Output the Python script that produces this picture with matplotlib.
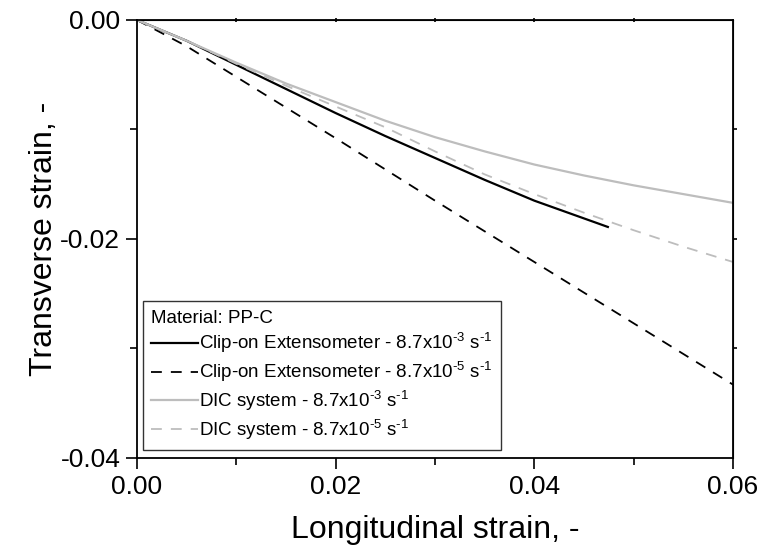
import matplotlib
matplotlib.use("Agg")
import matplotlib.pyplot as plt

plt.rcParams['font.family'] = ['Liberation Sans', 'DejaVu Sans']
plt.rcParams['mathtext.fontset'] = 'custom'
plt.rcParams['mathtext.rm'] = 'Liberation Sans'
plt.rcParams['mathtext.it'] = 'Liberation Sans'
plt.rcParams['axes.unicode_minus'] = False

# datos
clip_fast_x = [0, 0.005, 0.01, 0.015, 0.02, 0.025, 0.03, 0.035, 0.04, 0.0474]
clip_fast_y = [0, -0.0019, -0.0041, -0.0063, -0.0085, -0.0106, -0.0126, -0.0146, -0.0165, -0.0189]

clip_slow_x = [0, 0.005, 0.01, 0.015, 0.02, 0.03, 0.04, 0.05, 0.06]
clip_slow_y = [0, -0.0024, -0.0052, -0.0080, -0.0108, -0.0165, -0.0221, -0.0277, -0.0333]

dic_fast_x = [0, 0.005, 0.01, 0.015, 0.02, 0.025, 0.03, 0.035, 0.04, 0.045, 0.05, 0.055, 0.06]
dic_fast_y = [0, -0.0019, -0.0039, -0.0058, -0.0075, -0.0092, -0.0107, -0.0120, -0.0132, -0.0142, -0.0151, -0.0159, -0.0167]

dic_slow_x = [0, 0.005, 0.01, 0.015, 0.02, 0.025, 0.03, 0.035, 0.04, 0.045, 0.05, 0.055, 0.06]
dic_slow_y = [0, -0.0019, -0.0040, -0.0060, -0.0079, -0.0098, -0.0120, -0.0141, -0.0159, -0.0176, -0.0192, -0.0207, -0.0221]

labels = [r"Clip-on Extensometer - 8.7x10$^{\text{-3}}$ s$^{\text{-1}}$",
          r"Clip-on Extensometer - 8.7x10$^{\text{-5}}$ s$^{\text{-1}}$",
          r"DIC system - 8.7x10$^{\text{-3}}$ s$^{\text{-1}}$",
          r"DIC system - 8.7x10$^{\text{-5}}$ s$^{\text{-1}}$"]

fig = plt.figure(figsize=(7.6, 5.54), dpi=100)
ax = fig.add_axes([0.1803, 0.1733, 0.7842, 0.7906])

ax.plot(clip_fast_x, clip_fast_y, '-', color='black', lw=1.6, label=labels[0])
ax.plot(clip_slow_x, clip_slow_y, '--', color='black', lw=1.3, dashes=(6, 5), label=labels[1])
ax.plot(dic_fast_x, dic_fast_y, '-', color='#bdbdbd', lw=1.6, label=labels[2])
ax.plot(dic_slow_x, dic_slow_y, '--', color='#bdbdbd', lw=1.3, dashes=(6, 5), label=labels[3])

ax.set_xlim(0, 0.06)
ax.set_ylim(-0.04, 0)
ax.set_xticks([0, 0.02, 0.04, 0.06])
ax.set_xticklabels(["0.00", "0.02", "0.04", "0.06"])
ax.set_xticks([0.01, 0.03, 0.05], minor=True)
ax.set_yticks([-0.04, -0.02, 0])
ax.set_yticklabels(["-0.04", "-0.02", "0.00"])
ax.set_yticks([-0.03, -0.01], minor=True)
ax.tick_params(which='major', direction='out', length=8, width=1.2, labelsize=19, pad=4)
ax.tick_params(which='minor', direction='out', length=5, width=1.2)
for s in ax.spines.values():
    s.set_linewidth(1.3)

# ticks chicos arriba y a la derecha
top = ax.secondary_xaxis('top')
top.set_xticks([0.01, 0.02, 0.03, 0.04, 0.05])
top.tick_params(direction='inout', length=3, width=1.2, labeltop=False)
right = ax.secondary_yaxis('right')
right.set_yticks([-0.03, -0.02, -0.01])
right.tick_params(direction='out', length=3, width=1.2, labelright=False)

ax.set_xlabel("Longitudinal strain, -", fontsize=23, labelpad=12)
ax.set_ylabel("Transverse strain, -", fontsize=23, labelpad=1)

leg = ax.legend(loc='lower left', bbox_to_anchor=(0.01, 0.018), title="Material: PP-C",
                alignment='left', fontsize=13.5, title_fontsize=13.5, frameon=True,
                fancybox=False, edgecolor='black', handlelength=2.5, handletextpad=0.05,
                labelspacing=0.25, borderpad=0.45, borderaxespad=0)
leg.get_frame().set_linewidth(1.0)

fig.savefig("out.png", dpi=100)
